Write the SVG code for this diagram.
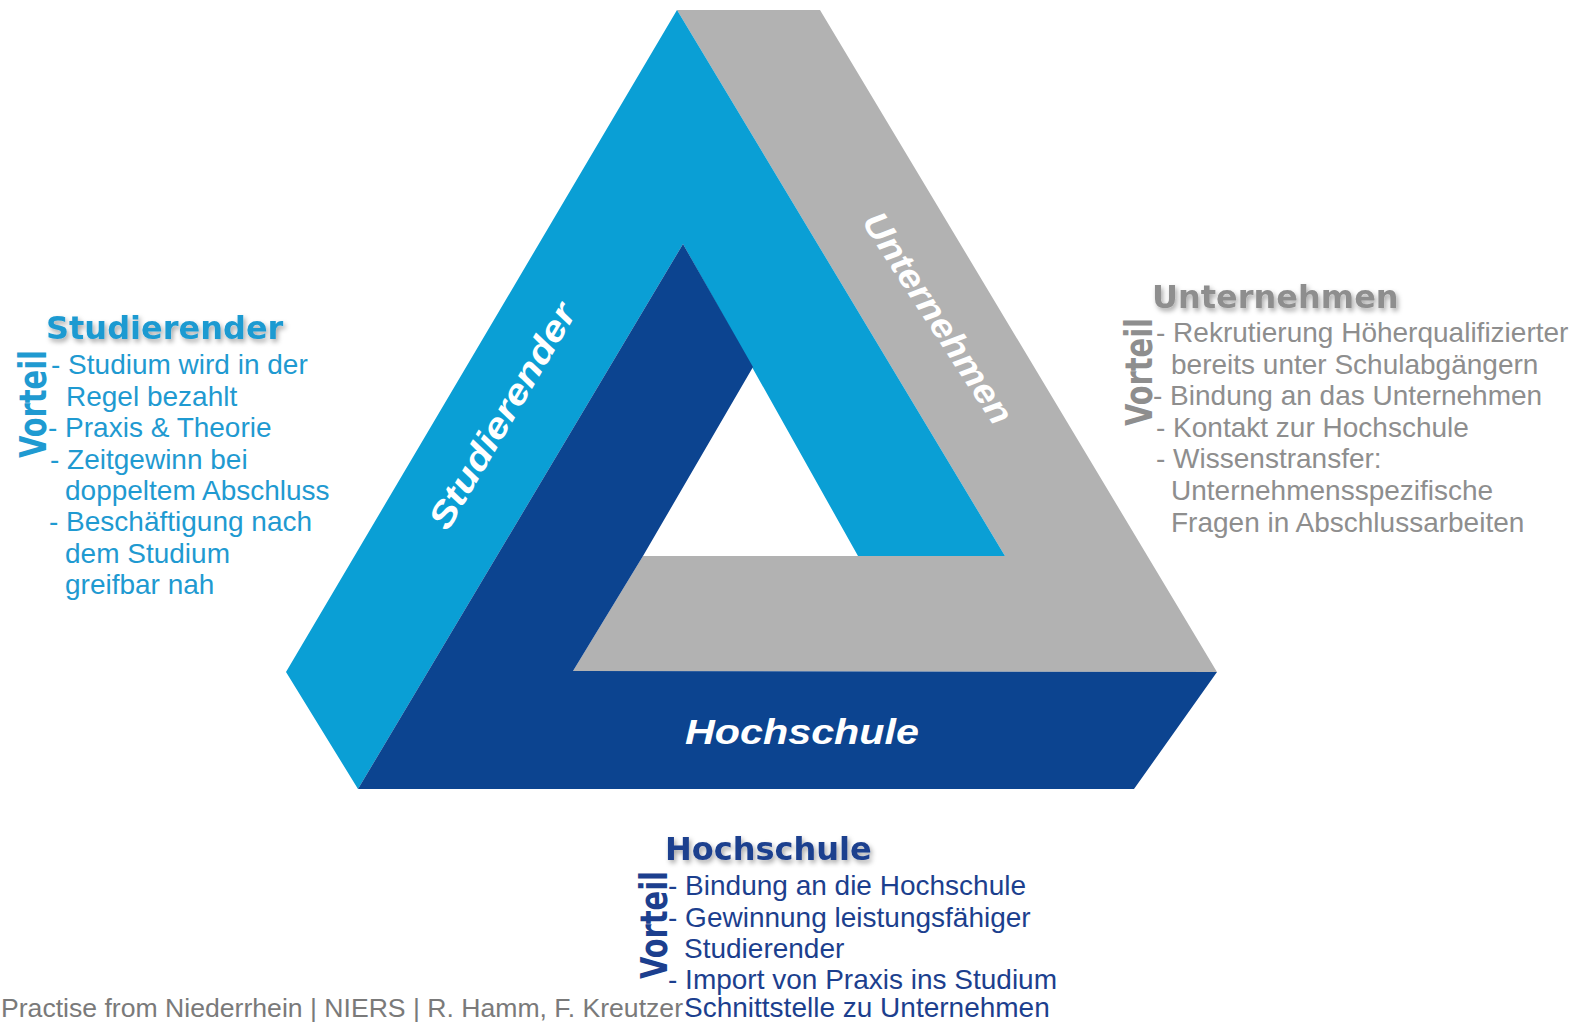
<svg xmlns="http://www.w3.org/2000/svg" width="1588" height="1024" viewBox="0 0 1588 1024">
<defs>
<style>
.body{font-family:"Liberation Sans",Arial,sans-serif;font-size:28px}
.head{font-family:"DejaVu Sans",Verdana,sans-serif;font-weight:bold;font-size:32px}
.vort{font-family:"DejaVu Sans",Verdana,sans-serif;font-weight:bold;font-size:37px}
.bar{font-family:"Liberation Sans",Arial,sans-serif;font-weight:bold;font-style:italic;font-size:35px;fill:#ffffff}
.lb{fill:#1f9ad1}
.db{fill:#1c3f8e}
.gr{fill:#8e8e8e}
.foot{font-family:"Liberation Sans",Arial,sans-serif;font-size:26px;fill:#7a7a7a}
</style>
<filter id="sh" x="-10%" y="-30%" width="130%" height="180%">
<feDropShadow dx="2" dy="3" stdDeviation="2.5" flood-color="#000" flood-opacity="0.35"/>
</filter>
</defs>
<rect width="1588" height="1024" fill="#ffffff"/>
<g id="triangle">
<polygon id="bar-unternehmen" points="677,10 820,10 1217,672 573,671 643,556 1005,556" fill="#b2b2b2"/>
<polygon id="bar-studierender" points="677,10 1005,556 858,556 683,244 358,789 286,672" fill="#0a9fd5"/>
<polygon id="bar-hochschule" points="683,244 753,367 643,556 573,671 1217,672 1134,789 358,789" fill="#0c4490"/>
</g>
<g id="bar-labels">
<text class="bar" transform="translate(502,416) rotate(-59.5)" x="0" y="12" text-anchor="middle" textLength="255" lengthAdjust="spacingAndGlyphs">Studierender</text>
<text class="bar" transform="translate(938,318) rotate(57)" x="0" y="12" text-anchor="middle" textLength="245" lengthAdjust="spacingAndGlyphs">Unternehmen</text>
<text class="bar" x="685" y="744" textLength="234" lengthAdjust="spacingAndGlyphs">Hochschule</text>
</g>
<g id="node-studierender">
<text class="head lb" x="46" y="339" filter="url(#sh)">Studierender</text>
<text class="vort lb" transform="translate(46,458) rotate(-90)" x="0" y="0" textLength="108" lengthAdjust="spacingAndGlyphs">Vorteil</text>
<text class="body lb" x="51" y="374">- Studium wird in der</text>
<text class="body lb" x="66" y="406">Regel bezahlt</text>
<text class="body lb" x="48" y="437">- Praxis &amp; Theorie</text>
<text class="body lb" x="50" y="469">- Zeitgewinn bei</text>
<text class="body lb" x="65" y="500">doppeltem Abschluss</text>
<text class="body lb" x="49" y="531">- Beschäftigung nach</text>
<text class="body lb" x="65" y="563">dem Studium</text>
<text class="body lb" x="65" y="594">greifbar nah</text>
</g>
<g id="node-unternehmen">
<text class="head gr" x="1152" y="308" filter="url(#sh)">Unternehmen</text>
<text class="vort gr" transform="translate(1152,426) rotate(-90)" x="0" y="0" textLength="108" lengthAdjust="spacingAndGlyphs">Vorteil</text>
<text class="body gr" x="1156" y="342">- Rekrutierung Höherqualifizierter</text>
<text class="body gr" x="1171" y="374">bereits unter Schulabgängern</text>
<text class="body gr" x="1153" y="405">- Bindung an das Unternehmen</text>
<text class="body gr" x="1156" y="437">- Kontakt zur Hochschule</text>
<text class="body gr" x="1156" y="468">- Wissenstransfer:</text>
<text class="body gr" x="1171" y="500">Unternehmensspezifische</text>
<text class="body gr" x="1171" y="532">Fragen in Abschlussarbeiten</text>
</g>
<g id="node-hochschule">
<text class="head db" x="665" y="860" filter="url(#sh)">Hochschule</text>
<text class="vort db" transform="translate(667,979) rotate(-90)" x="0" y="0" textLength="108" lengthAdjust="spacingAndGlyphs">Vorteil</text>
<text class="body db" x="668" y="895">- Bindung an die Hochschule</text>
<text class="body db" x="668" y="927">- Gewinnung leistungsfähiger</text>
<text class="body db" x="684" y="958">Studierender</text>
<text class="body db" x="668" y="989">- Import von Praxis ins Studium</text>
<text class="body db" x="684" y="1017">Schnittstelle zu Unternehmen</text>
</g>
<g id="connectors"/>
<text id="footer" class="foot" x="1" y="1017" textLength="682" lengthAdjust="spacingAndGlyphs">Practise from Niederrhein | NIERS | R. Hamm, F. Kreutzer</text>
</svg>
